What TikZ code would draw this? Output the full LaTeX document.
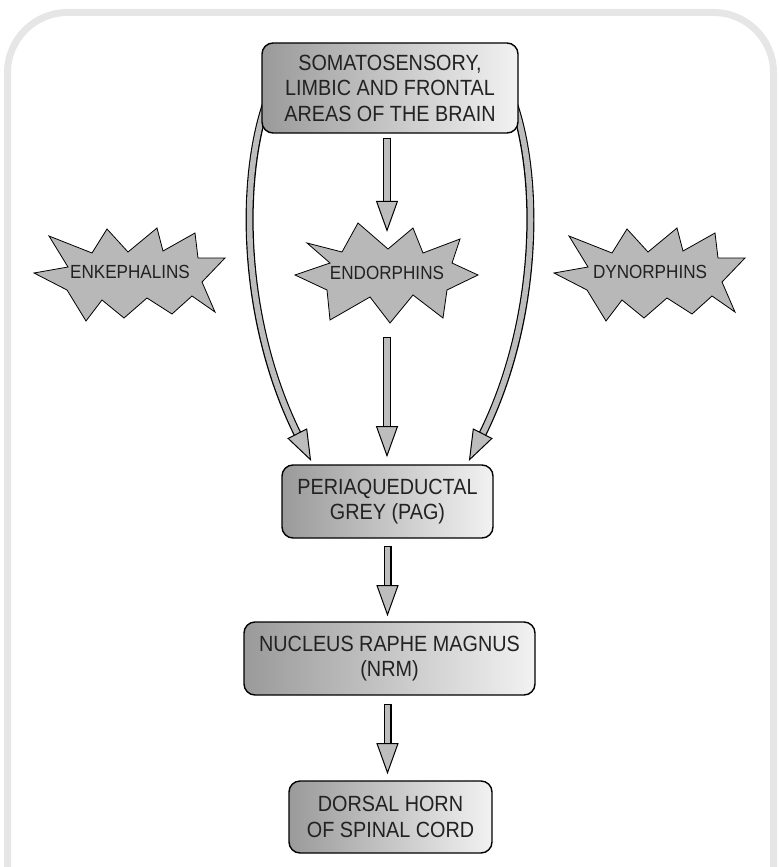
\documentclass[tikz,border=0pt]{standalone}
\usepackage{fontspec}
\setmainfont{Liberation Sans}[FakeStretch=0.9]
\usepackage{tikz}
\usetikzlibrary{shapes,%
	arrows.meta,%
	decorations.markings,%
	backgrounds%
}
\definecolor{framegrey}{HTML}{E6E6E6}
\definecolor{stargrey}{HTML}{B8B8B8}
\definecolor{arrowgrey}{HTML}{BDBDBD}
\definecolor{boxdark}{HTML}{9A9A9A}
\definecolor{boxlight}{HTML}{F2F2F2}
\definecolor{inkgrey}{HTML}{222222}
\tikzset{
	fat/.style={
		preaction={draw=black, line width=8pt, shorten >=28pt},
		preaction={draw=arrowgrey, line width=5.6pt, shorten >=27pt, shorten <=1.2pt},
		postaction={decorate, decoration={markings,
			mark=at position 0.999 with {\arrow{Triangle[width=22pt, length=31pt, fill=arrowgrey, line width=1pt]}}}}
	},
	burst/.style={draw=black, line width=0.8pt, fill=stargrey, line join=miter}
}

\begin{document}
\begin{tikzpicture}[x=1pt, y=-1pt]
	\useasboundingbox (0,0) rectangle (779,867);
	\draw[framegrey, line width=7pt, rounded corners=60pt] (7.5,880) -- (7.5,12.5) -- (773.5,12.5) -- (773.5,880);
	\begin{scope}[every node/.style={draw=black, line width=1.4pt, rounded corners=11pt,
		left color=boxdark, right color=boxlight, align=center, text=inkgrey,
		font=\fontsize{22}{25.5}\selectfont, inner sep=0pt}]
	\node[minimum width=256pt, minimum height=90pt] (som) at (390,88) {SOMATOSENSORY,\\LIMBIC AND FRONTAL\\AREAS OF THE BRAIN};
	\node[minimum width=211pt, minimum height=73pt] (pag) at (387.5,501.5) {PERIAQUEDUCTAL\\GREY (PAG)};
	\node[minimum width=291pt, minimum height=73pt] (nrm) at (389.5,658.5) {NUCLEUS RAPHE MAGNUS\\(NRM)};
	\node[minimum width=203pt, minimum height=72pt] (dh) at (390.5,817) {DORSAL HORN\\OF SPINAL CORD};
	\end{scope}
	\begin{scope}[every node/.style={text=inkgrey, font=\fontsize{19}{22}\selectfont, inner sep=0pt}]
	\node (enk) at (130,272) {ENKEPHALINS};
	\node (endo) at (387,273) {ENDORPHINS};
	\node (dyn) at (650,272) {DYNORPHINS};
	\end{scope}
	\begin{scope}[on background layer]
	\foreach \s in {enk,dyn}
	\filldraw[burst, shift={(\s.center)}] (-96,1) -- (-62,-5) -- (-81,-36) -- (-38,-19) -- (-23,-43)
		-- (-2,-20) -- (27,-44) -- (33,-21) -- (65,-39) -- (68,-14) -- (95,-14) -- (72,10)
		-- (85,40) -- (62,24) -- (42,42) -- (17,26) -- (-6,46) -- (-28,28) -- (-44,49) -- (-63,18) -- cycle;
	\filldraw[burst, shift={(endo.center)}] (-92,2) -- (-57,-10) -- (-80,-30) -- (-45,-21) -- (-29,-50)
		-- (1,-24) -- (26,-45) -- (36,-20) -- (73,-34) -- (65,-10) -- (91,2) -- (60,17)
		-- (56,45) -- (26,22) -- (3,50) -- (-17,24) -- (-57,47) -- (-60,17) -- cycle;
	\path[fat] ([yshift=-4pt]som.south -| endo.center) -- ([yshift=41pt]endo.center);
	\path[fat] ([yshift=-64pt]endo.center) -- ([yshift=7pt]endo.center |- pag.north);
	\path[fat] ([yshift=-7pt]pag.south) -- ([yshift=5pt]pag.south |- nrm.north);
	\path[fat] ([yshift=-8pt]pag.south |- nrm.south) -- ([yshift=6pt]pag.south |- dh.north);
	\path[fat] ([xshift=10pt, yshift=-2pt]som.west) .. controls (238,170) and (240,320) .. ([xshift=30pt, yshift=3pt]pag.north west);
	\path[fat] ([xshift=-10pt, yshift=-2pt]som.east) .. controls (542,170) and (540,320) .. ([xshift=-25pt, yshift=3pt]pag.north east);
	\end{scope}
\end{tikzpicture}
\end{document}
